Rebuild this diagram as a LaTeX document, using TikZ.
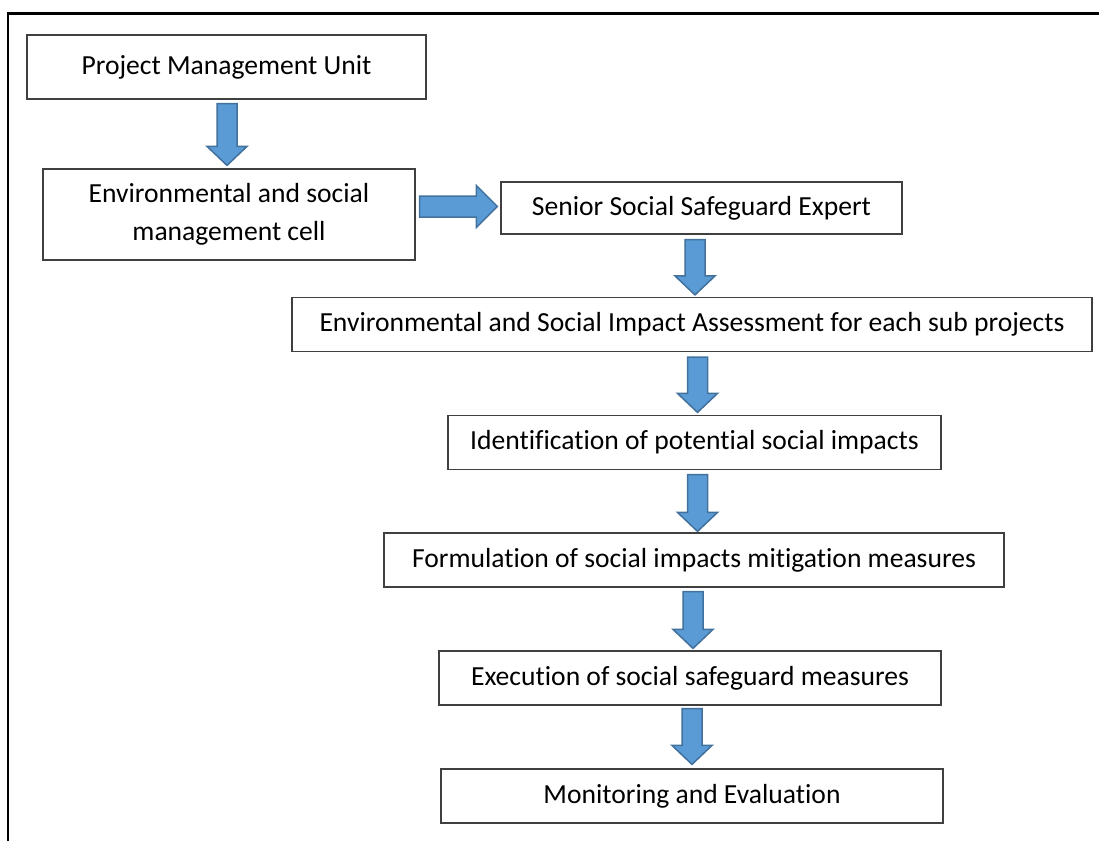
\documentclass[tikz,border=0pt]{standalone}
\usepackage{fontspec}
\setmainfont{Carlito}[Ligatures=NoCommon]
\usetikzlibrary{calc}
\definecolor{arrfill}{HTML}{5B9BD5}
\definecolor{arrline}{HTML}{41719C}
\definecolor{boxline}{HTML}{404040}
\tikzset{
  box/.style={draw=boxline, line width=1.2pt, rectangle, inner sep=0pt, align=center,
    font=\fontsize{27.6}{38}\selectfont, text=black},
  blockarr/.style={fill=arrfill, draw=arrline, line width=1.5pt, line join=miter},
  frame/.style={draw=black, line width=2.5pt}
}
\newcommand\vblock[2]{\draw[blockarr] let \p1=(#1), \p2=(#2) in
  (\x1-10pt,\y1) -- (\x1+10pt,\y1) -- (\x1+10pt,\y2+19pt) -- (\x1+20pt,\y2+19pt)
  -- (\x1,\y2) -- (\x1-20pt,\y2+19pt) -- (\x1-10pt,\y2+19pt) -- cycle;}
\newcommand\hblock[2]{\draw[blockarr] let \p1=(#1), \p2=(#2) in
  (\x1,\y1+10.5pt) -- (\x1,\y1-10.5pt) -- (\x2-21pt,\y1-10.5pt) -- (\x2-21pt,\y1-21pt)
  -- (\x2,\y1) -- (\x2-21pt,\y1+21pt) -- (\x2-21pt,\y1+10.5pt) -- cycle;}
\begin{document}
\begin{tikzpicture}[x=1pt,y=-1pt]
\useasboundingbox (0,0) rectangle (1099,841);
% outer frame (top and left edges)
\coordinate (fl) at (8,841);
\coordinate (ftl) at (8,13.5);
\coordinate (fr) at (1099,13.5);
\draw[frame] (fl) -- (ftl) -- (fr);
% boxes
\node[box, minimum width=399, minimum height=64] (b1) at (226.5,67) {Project Management Unit};
\node[box, minimum width=372, minimum height=91] (b2) at (229,214.5) {Environmental and social\\management cell};
\node[box, minimum width=401, minimum height=52] (b3) at (701.5,208) {Senior Social Safeguard Expert};
\node[box, minimum width=800, minimum height=54] (b4) at (692,324.5) {Environmental and Social Impact Assessment for each sub projects};
\node[box, minimum width=493, minimum height=54] (b5) at (694.5,442.5) {Identification of potential social impacts};
\node[box, minimum width=620, minimum height=54] (b6) at (694,560) {Formulation of social impacts mitigation measures};
\node[box, minimum width=502, minimum height=54] (b7) at (690,678) {Execution of social safeguard measures};
\node[box, minimum width=502, minimum height=54] (b8) at (692,796) {Monitoring and Evaluation};
% arrow end points
\coordinate (a1s) at ($(b1.south)+(0.5,4)$);
\coordinate (a1e) at ($(b2.north)+(-1.5,-3)$);
\coordinate (a2s) at ($(b2.east)+(4,-8)$);
\coordinate (a2e) at ($(b3.west)+(-3,-2)$);
\coordinate (a3s) at ($(b3.south)+(-6.5,5)$);
\coordinate (a3e) at ($(b4.north)+(3,-2)$);
\coordinate (a4s) at ($(b4.south)+(5.5,5)$);
\coordinate (a4e) at ($(b5.north)+(3,-2.5)$);
\coordinate (a5s) at ($(b5.south)+(3,4.5)$);
\coordinate (a5e) at ($(b6.north)+(3.5,-1)$);
\coordinate (a6s) at ($(b6.south)+(-1,4)$);
\coordinate (a6e) at ($(b7.north)+(3,-2)$);
\coordinate (a7s) at ($(b7.south)+(2,3)$);
\coordinate (a7e) at ($(b8.north)+(0,-4)$);
\vblock{a1s}{a1e}
\hblock{a2s}{a2e}
\vblock{a3s}{a3e}
\vblock{a4s}{a4e}
\vblock{a5s}{a5e}
\vblock{a6s}{a6e}
\vblock{a7s}{a7e}
\end{tikzpicture}
\end{document}
